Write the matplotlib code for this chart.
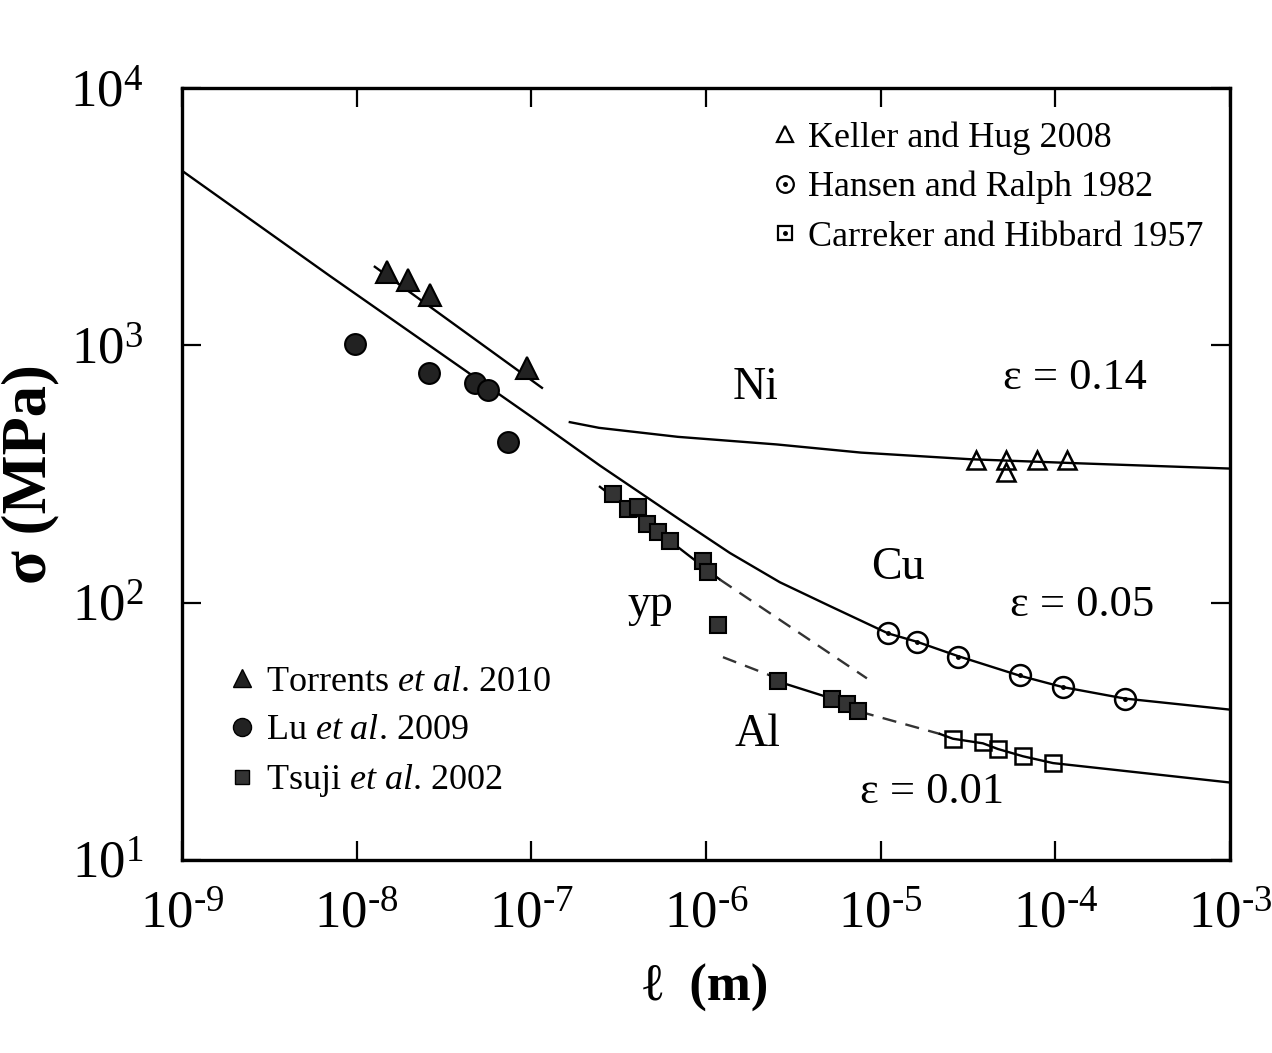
import matplotlib
matplotlib.use('Agg')
import matplotlib.pyplot as plt
from matplotlib.lines import Line2D

plt.rcParams['font.family'] = ['Liberation Serif', 'DejaVu Serif']
plt.rcParams['mathtext.fontset'] = 'custom'
plt.rcParams['mathtext.rm'] = 'Liberation Serif'
plt.rcParams['mathtext.it'] = 'Liberation Serif:italic'
plt.rcParams['mathtext.bf'] = 'Liberation Serif:bold'

# ---- data ----
# Torrents et al. 2010 (filled triangles) and its fit line
torrents_l = [1.49e-8, 1.97e-8, 2.63e-8, 9.5e-8]
torrents_s = [1930, 1800, 1570, 820]
torrents_fit_l = [1.27e-8, 1.15e-7]
torrents_fit_s = [2020, 684]

# Lu et al. 2009 (filled circles)
lu_l = [9.8e-9, 2.59e-8, 4.75e-8, 5.65e-8, 7.35e-8]
lu_s = [1010, 783, 716, 672, 420]

# Tsuji et al. 2002 (filled squares)
tsuji_l = [2.93e-7, 3.57e-7, 4.07e-7, 4.59e-7, 5.31e-7, 6.21e-7, 9.6e-7,
           1.03e-6, 1.17e-6, 2.58e-6, 5.26e-6, 6.41e-6, 7.41e-6]
tsuji_s = [265, 232, 236, 202, 188, 174, 145, 131, 82, 49.4, 42.4, 40.5, 38]

# Keller and Hug 2008 (open triangles, Ni)
keller_l = [3.51e-5, 5.21e-5, 5.21e-5, 7.83e-5, 1.16e-4]
keller_s = [357, 359, 321, 359, 357]

# Hansen and Ralph 1982 (open circles, Cu)
hansen_l = [1.10e-5, 1.61e-5, 2.77e-5, 6.27e-5, 1.10e-4, 2.50e-4]
hansen_s = [76, 70.3, 61.4, 52.2, 46.9, 42.4]

# Carreker and Hibbard 1957 (open squares, Al)
carreker_l = [2.59e-5, 3.85e-5, 4.69e-5, 6.52e-5, 9.7e-5]
carreker_s = [29.6, 28.8, 27.0, 25.3, 23.8]

# model curves
main_l = [1e-9, 7.03e-9, 1.02e-7, 2.47e-7, 7.10e-7, 1.37e-6, 2.65e-6, 5.12e-6,
          1.10e-5, 1.61e-5, 2.77e-5, 6.27e-5, 1.10e-4, 2.50e-4, 1e-3]
main_s = [4770, 1860, 523, 341, 210, 156, 120, 97,
          76, 70.5, 62, 52, 47, 42.4, 38.4]

ni_l = [1.66e-7, 2.44e-7, 6.9e-7, 2.54e-6, 7.71e-6, 3.24e-5, 1.36e-4, 1e-3]
ni_s = [503, 478, 441, 412, 383, 361, 348, 332]

yp_solid_l = [2.47e-7, 1.20e-6]
yp_solid_s = [282, 123]
yp_dash_l = [1.20e-6, 8.34e-6]
yp_dash_s = [123, 50.8]

al_dash1_l = [1.25e-6, 2.32e-6]
al_dash1_s = [61.4, 52.2]
al_solid1_l = [2.32e-6, 2.58e-6, 5.26e-6, 7.6e-6]
al_solid1_s = [52.2, 49.4, 42.4, 37.7]
al_dash2_l = [7.6e-6, 2.18e-5]
al_dash2_s = [37.7, 30.9]
al_solid2_l = [2.18e-5, 2.59e-5, 3.85e-5, 4.69e-5, 6.52e-5, 9.7e-5, 1e-3]
al_solid2_s = [30.9, 29.6, 28.4, 27.0, 25.3, 23.8, 20.0]

xticks = [1e-9, 1e-8, 1e-7, 1e-6, 1e-5, 1e-4, 1e-3]
xticklabels = [r'$10^{\text{-}9}$', r'$10^{\text{-}8}$', r'$10^{\text{-}7}$', r'$10^{\text{-}6}$',
               r'$10^{\text{-}5}$', r'$10^{\text{-}4}$', r'$10^{\text{-}3}$']
yticks = [1e1, 1e2, 1e3, 1e4]
yticklabels = [r'$10^{1}$', r'$10^{2}$', r'$10^{3}$', r'$10^{4}$']

fig = plt.figure(figsize=(12.72, 10.53), dpi=100)
ax = fig.add_axes([0.1431, 0.1833, 0.8239, 0.7331])

lw = 1.7
dash = (6, 4)
ax.plot(main_l, main_s, color='black', lw=lw)
ax.plot(ni_l, ni_s, color='black', lw=lw)
ax.plot(torrents_fit_l, torrents_fit_s, color='black', lw=lw)
ax.plot(yp_solid_l, yp_solid_s, color='black', lw=lw)
ax.plot(yp_dash_l, yp_dash_s, color='#333333', lw=lw, dashes=dash)
ax.plot(al_dash1_l, al_dash1_s, color='#333333', lw=lw, dashes=dash)
ax.plot(al_solid1_l, al_solid1_s, color='black', lw=lw)
ax.plot(al_dash2_l, al_dash2_s, color='#333333', lw=lw, dashes=dash)
ax.plot(al_solid2_l, al_solid2_s, color='black', lw=lw)

# filled symbols
ax.plot(torrents_l, torrents_s, ls='none', marker='^', ms=16, mfc='#222222', mec='black', mew=1.5)
ax.plot(lu_l, lu_s, ls='none', marker='o', ms=15, mfc='#222222', mec='black', mew=1.5)
ax.plot(tsuji_l, tsuji_s, ls='none', marker='s', ms=11.5, mfc='#333333', mec='black', mew=1.5)

# open symbols
ax.plot(keller_l, keller_s, ls='none', marker='^', ms=13, mfc='none', mec='black', mew=1.8)
ax.plot(hansen_l, hansen_s, ls='none', marker='o', ms=15, mfc='none', mec='black', mew=1.8)
ax.plot(hansen_l, hansen_s, ls='none', marker='o', ms=2.5, mfc='black', mec='black')
ax.plot(carreker_l, carreker_s, ls='none', marker='s', ms=12, mfc='none', mec='black', mew=1.8)

ax.set_xscale('log')
ax.set_yscale('log')
ax.set_xlim(1e-9, 1e-3)
ax.set_ylim(1e1, 1e4)
ax.set_xticks(xticks)
ax.set_xticklabels(xticklabels)
ax.set_yticks(yticks)
ax.set_yticklabels(yticklabels)
ax.minorticks_off()
ax.tick_params(axis='both', which='major', direction='in', length=14, width=1.6,
               top=True, right=True, labelsize=38)
ax.tick_params(axis='x', pad=22)
ax.tick_params(axis='y', pad=28)
for sp in ax.spines.values():
    sp.set_linewidth(2.4)

ax.set_xlabel('ℓ  (m)', fontsize=38, fontweight='bold', labelpad=18)
ax.set_ylabel('σ (MPa)', fontsize=45, fontweight='bold')
ax.yaxis.set_label_coords(-0.117, 0.5)

# annotations
tkw = dict(transform=ax.transAxes, fontsize=32, ha='center', va='center')
ax.text(0.547, 0.612, 'Ni', fontsize=33, transform=ax.transAxes, ha='center', va='center')
ax.text(0.852, 0.624, 'ε = 0.14', **tkw)
ax.text(0.683, 0.378, 'Cu', fontsize=33, transform=ax.transAxes, ha='center', va='center')
ax.text(0.859, 0.330, 'ε = 0.05', **tkw)
ax.text(0.447, 0.330, 'yp', fontsize=33, transform=ax.transAxes, ha='center', va='center')
ax.text(0.549, 0.162, 'Al', fontsize=33, transform=ax.transAxes, ha='center', va='center')
ax.text(0.716, 0.088, 'ε = 0.01', **tkw)

# legends
h_keller = Line2D([], [], ls='none', marker='^', ms=11, mfc='none', mec='black', mew=1.6)
h_hansen = (Line2D([], [], ls='none', marker='o', ms=12, mfc='none', mec='black', mew=1.6),
            Line2D([], [], ls='none', marker='o', ms=2.5, mfc='black', mec='black'))
h_carr = (Line2D([], [], ls='none', marker='s', ms=10, mfc='none', mec='black', mew=1.6),
          Line2D([], [], ls='none', marker='o', ms=2.5, mfc='black', mec='black'))
leg1 = ax.legend([h_keller, h_hansen, h_carr],
                 ['Keller and Hug 2008', 'Hansen and Ralph 1982', 'Carreker and Hibbard 1957'],
                 loc='upper left', bbox_to_anchor=(0.565, 0.957), frameon=False,
                 fontsize=26, handlelength=0.6, handletextpad=0.35, labelspacing=0.45,
                 borderpad=0, borderaxespad=0)
ax.add_artist(leg1)

h_tor = Line2D([], [], ls='none', marker='^', ms=13, mfc='#222222', mec='black')
h_lu = Line2D([], [], ls='none', marker='o', ms=13, mfc='#222222', mec='black')
h_tsu = Line2D([], [], ls='none', marker='s', ms=10, mfc='#333333', mec='black')
ax.legend([h_tor, h_lu, h_tsu],
          [r'Torrents $\it{et\ al}$. 2010', r'Lu $\it{et\ al}$. 2009', r'Tsuji $\it{et\ al}$. 2002'],
          loc='upper left', bbox_to_anchor=(0.047, 0.252), frameon=False,
          fontsize=26, handlelength=0.6, handletextpad=0.35, labelspacing=0.42,
          borderpad=0, borderaxespad=0)

fig.savefig('out.png', dpi=100)
